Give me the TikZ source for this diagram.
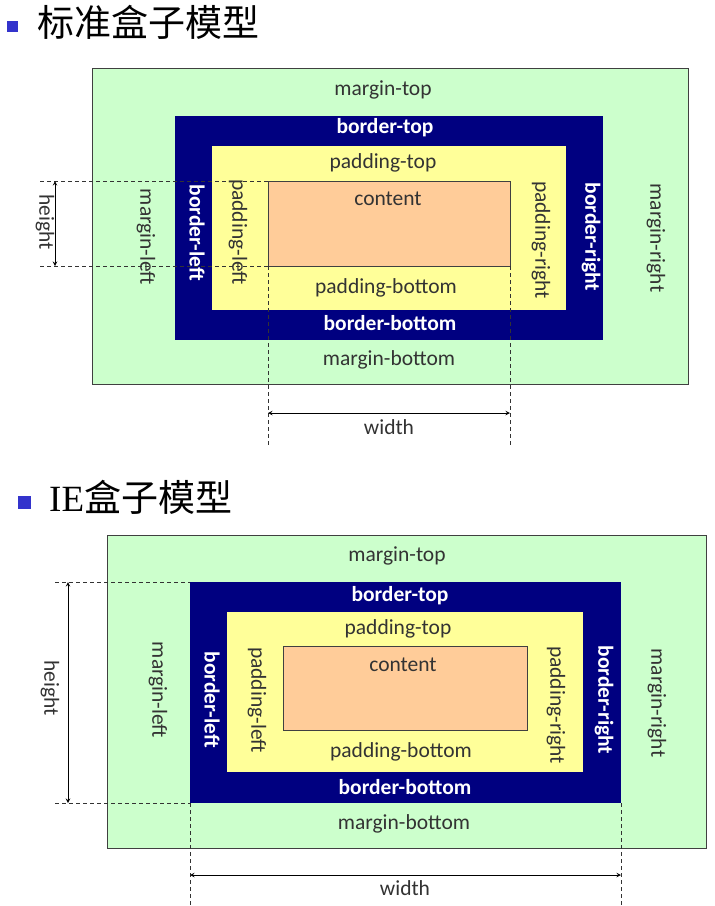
\documentclass[tikz,border=0pt]{standalone}
\usepackage{fontspec}
\setmainfont{Carlito}
\newfontfamily\cjkfont{Noto Sans CJK SC}
\newfontfamily\latinserif{Liberation Serif}
\usetikzlibrary{calc}

\definecolor{marginGreen}{HTML}{CCFFCC}
\definecolor{borderNavy}{HTML}{000080}
\definecolor{paddingYellow}{HTML}{FFFF99}
\definecolor{contentPeach}{HTML}{FFCC99}
\definecolor{bulletBlue}{HTML}{3333CC}

\begin{document}
\begin{tikzpicture}[x=1pt, y=-1pt, >=stealth,
  lbl/.style={font=\fontsize{21.5}{24}\selectfont, text=black!80, inner sep=0pt},
  wlbl/.style={lbl, font=\fontsize{21.5}{24}\selectfont\bfseries, text=white},
  vlbl/.style={lbl, rotate=-90},
  vwlbl/.style={wlbl, rotate=-90},
  title/.style={font=\cjkfont\fontsize{37}{40}\selectfont, anchor=west, inner sep=0pt},
  bullet/.style={fill=bulletBlue, draw=none},
  marginbox/.style={fill=marginGreen, draw=black!75, line width=0.8pt},
  borderbox/.style={fill=borderNavy},
  paddingbox/.style={fill=paddingYellow},
  contentbox/.style={fill=contentPeach, draw=black!75, line width=0.8pt},
  dimline/.style={dash pattern=on 4pt off 3pt, line width=1pt, black!80},
  dimarrow/.style={<->, line width=1pt}]

\useasboundingbox[fill=white] (0,0) rectangle (715,906);

% Standard box model
\fill[bullet] (7,21) rectangle (18,32);
\node[title] (stdTitle) at (37,22) {标准盒子模型};

% Corners
\coordinate (sM1) at (92,68);   \coordinate (sM2) at (688,384);
\coordinate (sB1) at (175,116); \coordinate (sB2) at (603,340);
\coordinate (sP1) at (212,146); \coordinate (sP2) at (566,310);
\coordinate (sC1) at (268,181); \coordinate (sC2) at (510,266);

% Boxes
\draw[marginbox] (sM1) rectangle (sM2);
\fill[borderbox] (sB1) rectangle (sB2);
\fill[paddingbox] (sP1) rectangle (sP2);
\draw[contentbox] (sC1) rectangle (sC2);

% Labels
\node[lbl]  (sMtop) at (383,90)  {margin-top};
\node[wlbl] (sBtop) at (385,128) {border-top};
\node[lbl]  (sPtop) at (383,163) {padding-top};
\node[lbl]  (sCont) at (388,199) {content};
\node[lbl]  (sPbot) at (386,288) {padding-bottom};
\node[wlbl] (sBbot) at (390,323) {border-bottom};
\node[lbl]  (sMbot) at (389,360) {margin-bottom};
\node[vlbl]  (sMleft)  at (146,237) {margin-left};
\node[vwlbl] (sBleft)  at (197,233) {border-left};
\node[vlbl]  (sPleft)  at (238,232) {padding-left};
\node[vlbl]  (sPright) at (541,240) {padding-right};
\node[vwlbl] (sBright) at (591,237) {border-right};
\node[vlbl]  (sMright) at (656,238) {margin-right};

% Height
\coordinate (sHt) at (40,181);  \coordinate (sHb) at (40,266);
\coordinate (sCbl) at (268,266);
\draw[dimline] (sHt) -- (sC1);
\draw[dimline] (sHb) -- (sCbl);
\coordinate (sHa1) at (55,181); \coordinate (sHa2) at (55,266);
\draw[dimarrow] (sHa1) -- (sHa2);
\node[vlbl] (sHeight) at (45,222) {height};

% Width
\coordinate (sCbr) at (510,266);
\coordinate (sWl) at (268,446); \coordinate (sWr) at (510,446);
\draw[dimline] (sCbl) -- (sWl);
\draw[dimline] (sCbr) -- (sWr);
\coordinate (sWa1) at (268,413); \coordinate (sWa2) at (510,413);
\draw[dimarrow] (sWa1) -- (sWa2);
\node[lbl] (sWidth) at (389,427) {width};

% IE box model
\fill[bullet] (18,496) rectangle (31,509);
\node[title] (ieTitle) at (49,497) {{\latinserif IE}盒子模型};

% Corners
\coordinate (iM1) at (107,535); \coordinate (iM2) at (706,848);
\coordinate (iB1) at (190,582); \coordinate (iB2) at (621,803);
\coordinate (iP1) at (227,612); \coordinate (iP2) at (583,772);
\coordinate (iC1) at (283,646); \coordinate (iC2) at (527,730);

% Boxes
\draw[marginbox] (iM1) rectangle (iM2);
\fill[borderbox] (iB1) rectangle (iB2);
\fill[paddingbox] (iP1) rectangle (iP2);
\draw[contentbox] (iC1) rectangle (iC2);

% Labels
\node[lbl]  (iMtop) at (397,556) {margin-top};
\node[wlbl] (iBtop) at (400,596) {border-top};
\node[lbl]  (iPtop) at (398,629) {padding-top};
\node[lbl]  (iCont) at (403,665) {content};
\node[lbl]  (iPbot) at (401,752) {padding-bottom};
\node[wlbl] (iBbot) at (405,787) {border-bottom};
\node[lbl]  (iMbot) at (404,824) {margin-bottom};
\node[vlbl]  (iMleft)  at (158,690) {margin-left};
\node[vwlbl] (iBleft)  at (212,700) {border-left};
\node[vlbl]  (iPleft)  at (257,700) {padding-left};
\node[vlbl]  (iPright) at (556,705) {padding-right};
\node[vwlbl] (iBright) at (604,700) {border-right};
\node[vlbl]  (iMright) at (657,703) {margin-right};

% Height
\coordinate (iHt) at (55,582);  \coordinate (iHb) at (55,803);
\coordinate (iBbl) at (190,803);
\draw[dimline] (iHt) -- (iB1);
\draw[dimline] (iHb) -- (iBbl);
\coordinate (iHa1) at (68,582); \coordinate (iHa2) at (68,803);
\draw[dimarrow] (iHa1) -- (iHa2);
\node[vlbl] (iHeight) at (50,688) {height};

% Width
\coordinate (iBbr) at (621,803);
\coordinate (iWl) at (190,906); \coordinate (iWr) at (621,906);
\draw[dimline] (iBbl) -- (iWl);
\draw[dimline] (iBbr) -- (iWr);
\coordinate (iWa1) at (190,875); \coordinate (iWa2) at (621,875);
\draw[dimarrow] (iWa1) -- (iWa2);
\node[lbl] (iWidth) at (405,888) {width};

\end{tikzpicture}
\end{document}
